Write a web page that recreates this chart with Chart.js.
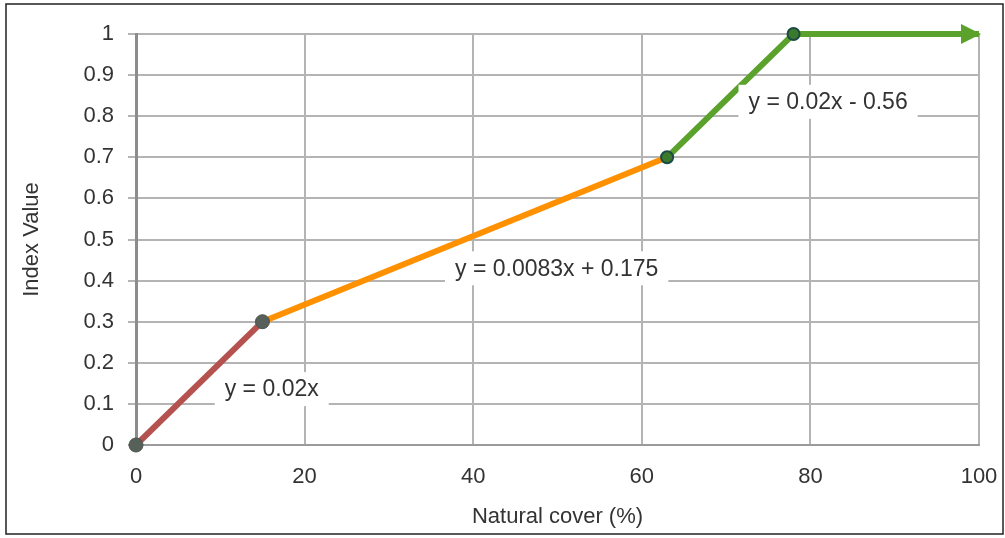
<!DOCTYPE html>
<html>
<head>
<meta charset="utf-8">
<style>
  html, body { margin: 0; padding: 0; background: #fff; }
  #wrap { width: 1005px; height: 538px; position: relative; }
</style>
<script src="https://cdn.jsdelivr.net/npm/chart.js@4.4.1/dist/chart.umd.min.js"></script>
</head>
<body>
<div id="wrap"><canvas id="indexChart" width="1005" height="538"></canvas></div>
<script>
/* ----- Data ----- */
const lowX = [0, 15];
const lowY = [0, 0.3];
const midX = [15, 63];
const midY = [0.3, 0.7];
const highX = [63, 78, 100];
const highY = [0.7, 1, 1];

const yTickLabels = ['0', '0.1', '0.2', '0.3', '0.4', '0.5', '0.6', '0.7', '0.8', '0.9', '1'];
const xTickLabels = ['0', '20', '40', '60', '80', '100'];

const equations = ['y = 0.02x', 'y = 0.0083x + 0.175', 'y = 0.02x - 0.56'];
const equationX = [16.1, 49.9, 82.1];
const equationY = [0.136, 0.43, 0.835];

const FONT = 'Liberation Sans, Helvetica, Arial, sans-serif';
const TEXT = '#333';

const toPoints = (xs, ys) => xs.map((x, i) => ({ x, y: ys[i] }));

/* ----- Plugins: frame, equation boxes, arrowhead ----- */
const framePlugin = {
    id: 'frame',
    afterDraw(chart) {
        const c = chart.ctx;
        c.save();
        c.strokeStyle = '#222';
        c.lineWidth = 1.5;
        c.strokeRect(6, 4, 997, 530);
        c.restore();
    }
};

const arrowPlugin = {
    id: 'arrow',
    afterDatasetsDraw(chart) {
        const meta = chart.getDatasetMeta(2);
        const last = meta.data[meta.data.length - 1];
        const c = chart.ctx;
        c.save();
        c.fillStyle = '#5ba22d';
        c.beginPath();
        c.moveTo(last.x + 2, last.y);
        c.lineTo(last.x - 18, last.y - 10);
        c.lineTo(last.x - 18, last.y + 10);
        c.closePath();
        c.fill();
        c.restore();
    }
};

const equationPlugin = {
    id: 'equations',
    afterDatasetsDraw(chart) {
        const c = chart.ctx;
        const xs = chart.scales.x, ys = chart.scales.y;
        c.save();
        c.font = '23px ' + FONT;
        c.textAlign = 'center';
        c.textBaseline = 'middle';
        equations.forEach((txt, i) => {
            const px = xs.getPixelForValue(equationX[i]);
            const py = ys.getPixelForValue(equationY[i]);
            const w = c.measureText(txt).width + 20;
            c.fillStyle = '#fff';
            c.fillRect(px - w / 2, py - 17, w, 34);
            c.fillStyle = TEXT;
            c.fillText(txt, px, py + 1);
        });
        c.restore();
    }
};

/* ----- Chart ----- */
new Chart(document.getElementById('indexChart'), {
    type: 'line',
    data: {
        datasets: [
            {
                data: toPoints(lowX, lowY),
                borderColor: '#b5524f',
                borderWidth: 6,
                pointRadius: 7,
                pointBackgroundColor: '#58605a',
                pointBorderColor: '#4b524c',
                pointBorderWidth: 1,
                clip: false,
                order: 2
            },
            {
                data: toPoints(midX, midY),
                borderColor: '#ff9000',
                borderWidth: 6,
                pointRadius: 0,
                clip: false,
                order: 3
            },
            {
                data: toPoints(highX, highY),
                borderColor: '#5ba22d',
                borderWidth: 6,
                pointRadius: [6, 6, 0],
                pointBackgroundColor: '#3a7a2c',
                pointBorderColor: '#1c4a45',
                pointBorderWidth: 2,
                clip: false,
                order: 1
            }
        ]
    },
    options: {
        responsive: false,
        animation: false,
        layout: { padding: { left: 15, top: 34, right: 26, bottom: 4 } },
        plugins: {
            legend: { display: false },
            tooltip: { enabled: false }
        },
        scales: {
            x: {
                type: 'linear',
                min: 0,
                max: 100,
                afterFit: (s) => { s.height = 89; s.paddingLeft = 0; s.paddingRight = 0; },
                ticks: {
                    stepSize: 20,
                    padding: 19,
                    color: TEXT,
                    font: { family: FONT, size: 22 },
                    callback: (v, i) => xTickLabels[i]
                },
                grid: { color: '#b4b4b4', lineWidth: 2, drawTicks: false },
                border: { color: '#9a9a9a', width: 2 },
                title: {
                    display: true,
                    text: 'Natural cover (%)',
                    color: TEXT,
                    font: { family: FONT, size: 22 },
                    padding: { top: 8 }
                }
            },
            y: {
                min: 0,
                max: 1,
                afterFit: (s) => { s.width = 121; s.paddingTop = 0; s.paddingBottom = 0; },
                ticks: {
                    stepSize: 0.1,
                    padding: 14,
                    color: TEXT,
                    font: { family: FONT, size: 22 },
                    callback: (v, i) => yTickLabels[i]
                },
                grid: { color: '#b4b4b4', lineWidth: 2, tickLength: 8 },
                border: { color: '#8c8c8c', width: 3 },
                title: {
                    display: true,
                    text: 'Index Value',
                    color: TEXT,
                    font: { family: FONT, size: 22 },
                    padding: { bottom: 10 }
                }
            }
        }
    },
    plugins: [equationPlugin, arrowPlugin, framePlugin]
});
</script>
</body>
</html>
